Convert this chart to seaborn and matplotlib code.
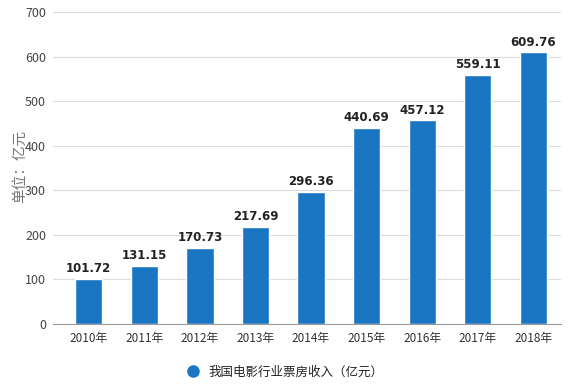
import matplotlib
matplotlib.use("Agg")
import matplotlib.pyplot as plt
import seaborn as sns
import pandas as pd

years = ["2010年", "2011年", "2012年", "2013年", "2014年", "2015年", "2016年", "2017年", "2018年"]
values = [101.72, 131.15, 170.73, 217.69, 296.36, 440.69, 457.12, 559.11, 609.76]
series_name = "我国电影行业票房收入（亿元）"

sns.set_theme(style="white")
plt.rcParams['font.family'] = ['Noto Sans CJK SC', 'DejaVu Sans']

df = pd.DataFrame({"year": years, "value": values})

fig = plt.figure(figsize=(5.71, 3.88), dpi=100)
ax = fig.add_axes([53/571, 1 - 324/388, 508/571, 312/388])
bar_color = "#1a76c3"
sns.barplot(data=df, x="year", y="value", color=bar_color, width=0.49, ax=ax, saturation=1)

ax.set_ylim(0, 700)
ax.set_xlim(-0.5 - 8/55.5, 8.5)
ax.set_yticks(range(0, 701, 100))
ax.yaxis.grid(True, color="#dcdcdc", linewidth=0.8)
ax.set_axisbelow(True)
for s in ["top", "right", "left"]:
    ax.spines[s].set_visible(False)
ax.spines["bottom"].set_color("#9a9a9a")
ax.spines["bottom"].set_linewidth(0.8)
ax.tick_params(axis="x", colors="#9a9a9a", length=4, width=0.8, labelcolor="#333333", labelsize=8.5, pad=2)
ax.tick_params(axis="y", length=0, labelcolor="#444444", labelsize=9, pad=5)
ax.set_xlabel("")
ax.set_ylabel("")
fig.text(20/571, 1 - 166/388, "单位：亿元", rotation=90, ha="center", va="center",
         color="#777777", fontsize=10.5)

for i, v in enumerate(values):
    ax.text(i, v + 8, f"{v:.2f}", ha="center", va="bottom", fontsize=8.5,
            fontweight="bold", color="#222222", family="DejaVu Sans")

fig.legend(handles=[plt.Line2D([], [], marker="o", linestyle="", markersize=8,
                               color=bar_color, label=series_name)],
           loc="center", bbox_to_anchor=(282/571, 1 - 372/388), frameon=False,
           fontsize=9, handletextpad=0.3, labelcolor="#222222")

fig.savefig("out.png", dpi=100)
